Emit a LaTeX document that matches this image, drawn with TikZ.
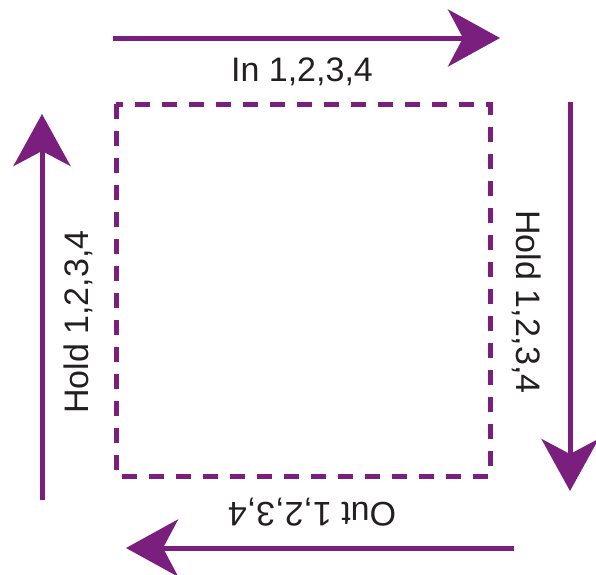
\documentclass[tikz,border=0pt]{standalone}
\usepackage{fontspec}
\setmainfont{Liberation Sans}
\usetikzlibrary{arrows.meta}
\definecolor{pur}{RGB}{123,31,127}
\definecolor{txt}{RGB}{35,31,32}
\begin{document}
\begin{tikzpicture}[x=1pt,y=-1pt,
  arr/.style={draw=pur, line width=5pt, -{Stealth[length=52pt,width=57pt,inset=15pt]}},
  lbl/.style={text=txt, font=\fontsize{34}{40}\selectfont, inner sep=0pt},
  box/.style={draw=pur, line width=5pt, dash pattern=on 15pt off 12pt}]
\useasboundingbox (0,0) rectangle (596,574);
% dashed box
\coordinate (b1) at (116,104);
\coordinate (b2) at (490,476);
\draw[box] (b1) rectangle (b2);
% arrows
\coordinate (t1) at (113,38);  \coordinate (t2) at (500,38);
\coordinate (r1) at (570,102); \coordinate (r2) at (570,491);
\coordinate (d1) at (514,548); \coordinate (d2) at (126,548);
\coordinate (l1) at (42,500);  \coordinate (l2) at (42,114);
\draw[arr] (t1) -- (t2);
\draw[arr] (r1) -- (r2);
\draw[arr] (d1) -- (d2);
\draw[arr] (l1) -- (l2);
% labels
\node[lbl] (tin) at (302,72) {In 1,2,3,4};
\node[lbl, rotate=-90] (rhold) at (527,302) {Hold 1,2,3,4};
\node[lbl, rotate=180] (bout) at (312,512) {Out 1,2,3,4};
\node[lbl, rotate=90] (lhold) at (78,322) {Hold 1,2,3,4};
\end{tikzpicture}
\end{document}
